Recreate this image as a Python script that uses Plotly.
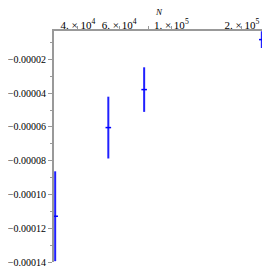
import plotly.graph_objects as go
import math

N = [32000, 53900, 76600, 243000]
values = [-0.0001129, -0.0000604, -0.0000379, -0.0000083]
errors = [0.0000266, 0.0000183, 0.0000132, 0.0000049]

x_tickvals = [40000, 60000, 80000, 100000, 200000]
x_ticktext = ["4. × 10<sup>4</sup>", "6. × 10<sup>4</sup>", "", "1. × 10<sup>5</sup>", "2. × 10<sup>5</sup>"]
y_tickvals = [-0.00002, -0.00004, -0.00006, -0.00008, -0.00010, -0.00012, -0.00014]
y_ticktext = ["−0.00002", "−0.00004", "−0.00006", "−0.00008", "−0.00010", "−0.00012", "−0.00014"]
y_minor = [-0.00001, -0.00003, -0.00005, -0.00007, -0.00009, -0.00011, -0.00013]

fig = go.Figure()
fig.add_trace(go.Scatter(
    x=N, y=values, mode="markers",
    marker=dict(symbol="line-ew", size=4, color="#0000ff",
                line=dict(color="#0000ff", width=1.5)),
    error_y=dict(type="data", array=errors, visible=True, color="#2020ff",
                 thickness=2, width=0),
    cliponaxis=False, showlegend=False,
))

serif = "Liberation Serif"
fig.update_layout(
    width=262, height=262,
    margin=dict(l=46, r=7, t=23, b=8),
    paper_bgcolor="white", plot_bgcolor="white",
    font=dict(family=serif, size=10, color="black"),
    xaxis=dict(
        type="log", side="top", automargin=False,
        range=[math.log10(32000) - 0.005, math.log10(243000) + 0.005],
        tickmode="array", tickvals=x_tickvals, ticktext=x_ticktext,
        ticks="outside", ticklen=3, tickcolor="#999999", tickwidth=1,
        ticklabelstandoff=-7,
        showline=True, linecolor="#999999", linewidth=2,
        showgrid=False, zeroline=False,
        tickfont=dict(family=serif, size=11),
    ),
    yaxis=dict(
        automargin=False,
        range=[-0.00014, -0.0000032],
        tickmode="array", tickvals=y_tickvals, ticktext=y_ticktext,
        ticks="outside", ticklen=4, tickcolor="#999999", tickwidth=1,
        minor=dict(tickmode="array", tickvals=y_minor, ticks="outside", ticklen=2,
                   tickcolor="#999999"),
        showline=True, linecolor="#999999", linewidth=2,
        showgrid=False, zeroline=False,
        tickfont=dict(family=serif, size=10),
    ),
    annotations=[dict(text="<i>N</i>", xref="paper", yref="paper", x=0.5, y=1,
                      xanchor="center", yanchor="middle", yshift=19, showarrow=False,
                      borderpad=0,
                      font=dict(family=serif, size=9, color="black"))],
)
fig.write_html("out.html")
